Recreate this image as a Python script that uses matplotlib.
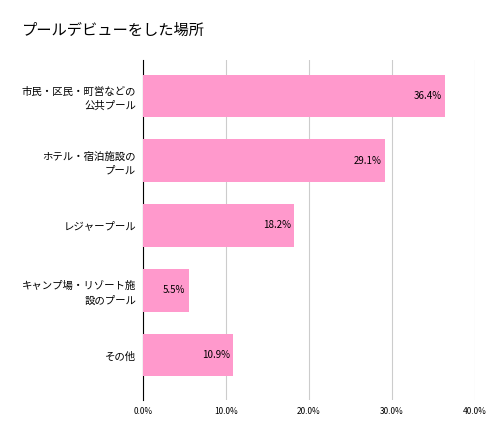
import matplotlib
matplotlib.use("Agg")
import matplotlib.pyplot as plt

plt.rcParams['font.family'] = ['Noto Sans CJK JP', 'DejaVu Sans']

categories = ["市民・区民・町営などの\n公共プール", "ホテル・宿泊施設の\nプール", "レジャープール", "キャンプ場・リゾート施\n設のプール", "その他"]
values = [36.4, 29.1, 18.2, 5.5, 10.9]
ticks = [0, 10, 20, 30, 40]
tick_labels = ["0.0%", "10.0%", "20.0%", "30.0%", "40.0%"]

fig = plt.figure(figsize=(4.98, 4.34), dpi=100)
ax = fig.add_axes([0.287, 0.078, 0.667, 0.784])
y = list(range(len(categories)))
ax.barh(y, values, height=0.65, color="#FF99CC", zorder=3)
for yi, v in zip(y, values):
    ax.text(v - 0.4, yi, f"{v:.1f}%", ha="right", va="center", fontsize=7, zorder=4)
ax.set_ylim(4.69, -0.55)
ax.set_xlim(0, 40)
ax.set_yticks(y)
ax.set_yticklabels(categories, fontsize=7.5, linespacing=1.5)
ax.set_xticks(ticks)
ax.set_xticklabels(tick_labels, fontsize=6)
ax.tick_params(length=0, pad=5)
ax.grid(axis="x", color="#cccccc", linewidth=0.8, zorder=0)
for s in ["top", "right", "bottom"]:
    ax.spines[s].set_visible(False)
ax.spines["left"].set_color("black")
ax.spines["left"].set_linewidth(0.8)
fig.text(0.044, 0.93, "プールデビューをした場所", fontsize=11, ha="left", va="center")
fig.savefig("out.png", dpi=100)
